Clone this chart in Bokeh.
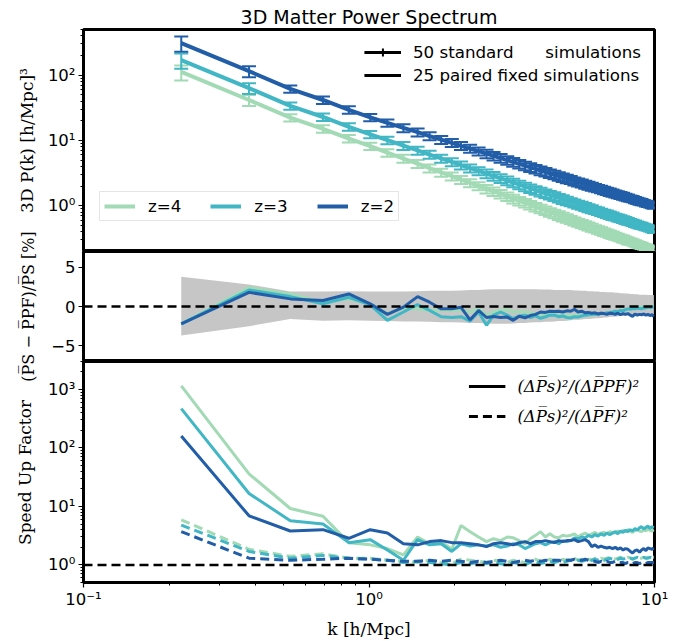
import math
import numpy as np
from bokeh.plotting import figure
from bokeh.models import (ColumnDataSource, Whisker, TeeHead, Span, Legend, LegendItem,
                          LogTicker, FixedTicker, CustomJSTickFormatter, Range1d, Label)
from bokeh.layouts import column, row
from bokeh.embed import file_html
from bokeh.resources import INLINE

# ---------------- data ----------------
k = [0.22, 0.38, 0.53, 0.69, 0.85, 1.01, 1.16, 1.32, 1.48, 1.63,
     1.79, 1.95, 2.10, 2.26, 2.42, 2.58, 2.73, 2.89, 3.05, 3.20,
     3.36, 3.52, 3.67, 3.83, 3.99, 4.15, 4.30, 4.46, 4.62, 4.77,
     4.93, 5.09, 5.24, 5.40, 5.56, 5.72, 5.87, 6.03, 6.19, 6.34,
     6.50, 6.66, 6.81, 6.97, 7.13, 7.29, 7.44, 7.60, 7.76, 7.91,
     8.07, 8.23, 8.38, 8.54, 8.70, 8.86, 9.01, 9.17, 9.33, 9.48,
     9.64, 9.80, 9.95]

pk_z2 = [309, 115, 61.7, 41.7, 29.5, 22.6, 18.6, 15.6, 13.4, 11.7,
         10.3, 9.21, 8.29, 7.52, 6.86, 6.30, 5.81, 5.39, 5.01, 4.68,
         4.39, 4.12, 3.89, 3.67, 3.47, 3.30, 3.13, 2.99, 2.85, 2.72,
         2.61, 2.50, 2.39, 2.30, 2.21, 2.13, 2.05, 1.98, 1.91, 1.85,
         1.79, 1.73, 1.68, 1.63, 1.58, 1.53, 1.49, 1.45, 1.41, 1.37,
         1.33, 1.30, 1.27, 1.23, 1.20, 1.17, 1.15, 1.12, 1.09, 1.07,
         1.05, 1.02, 1.00]
pk_z3 = [170, 63.3, 33.9, 22.9, 16.2, 12.4, 10.1, 8.32, 7.06, 6.10,
         5.31, 4.71, 4.20, 3.78, 3.42, 3.12, 2.86, 2.64, 2.44, 2.26,
         2.11, 1.97, 1.85, 1.74, 1.64, 1.55, 1.47, 1.40, 1.32, 1.26,
         1.20, 1.15, 1.10, 1.05, 1.01, 0.967, 0.928, 0.894, 0.860, 0.831,
         0.802, 0.773, 0.748, 0.724, 0.700, 0.677, 0.657, 0.638, 0.619, 0.600,
         0.582, 0.567, 0.553, 0.535, 0.520, 0.506, 0.497, 0.483, 0.469, 0.460,
         0.450, 0.437, 0.427]
pk_z4 = [112, 41.7, 22.4, 15.1, 10.7, 8.19, 6.51, 5.30, 4.43, 3.78,
         3.25, 2.85, 2.52, 2.24, 2.01, 1.82, 1.66, 1.52, 1.39, 1.28,
         1.19, 1.11, 1.03, 0.965, 0.904, 0.851, 0.800, 0.758, 0.717, 0.679,
         0.646, 0.614, 0.583, 0.557, 0.532, 0.509, 0.487, 0.467, 0.448, 0.431,
         0.415, 0.398, 0.385, 0.371, 0.358, 0.345, 0.334, 0.323, 0.313, 0.303,
         0.292, 0.285, 0.277, 0.267, 0.259, 0.252, 0.246, 0.239, 0.232, 0.226,
         0.221, 0.214, 0.209]
# relative 1-sigma scatter of the 50 standard simulations
rel_err = [0.26, 0.19, 0.13, 0.13, 0.13, 0.13, 0.13, 0.14, 0.14, 0.14,
           0.14, 0.14, 0.14, 0.14, 0.14, 0.15, 0.15, 0.15, 0.15, 0.15,
           0.15, 0.15, 0.15, 0.15, 0.15, 0.15, 0.15, 0.15, 0.15, 0.15,
           0.15, 0.14, 0.14, 0.14, 0.14, 0.14, 0.14, 0.14, 0.13, 0.13,
           0.13, 0.13, 0.13, 0.13, 0.13, 0.12, 0.12, 0.12, 0.12, 0.12,
           0.12, 0.11, 0.11, 0.11, 0.11, 0.11, 0.11, 0.10, 0.10, 0.10,
           0.10, 0.10, 0.10]

ratio_z2 = [-2.2, 1.8, 0.97, 0.76, 1.6, 0.34, -1.0, -0.08, 1.26, 0.55,
            -0.3, -0.3, -0.1, -1.7, -0.5, -1.4, -1.26, -1.4, -1.35, -1.76,
            -1.25, -1.45, -1.15, -1.0, -0.7, -0.75, -0.6, -0.65, -0.6, -0.7,
            -0.55, -0.6, -0.35, -0.7, -0.6, -0.8, -0.75, -0.85, -0.8, -0.95,
            -0.85, -0.9, -1.0, -0.85, -0.9, -1.0, -0.85, -1.05, -0.9, -1.0,
            -0.9, -1.1, -1.25, -0.95, -1.1, -1.0, -1.05, -0.95, -1.1, -1.0,
            -1.15, -1.05, -1.25]
ratio_z3 = [-2.2, 2.1, 1.26, 0.34, 1.17, 0.2, -1.76, -0.7, 0.25, -0.5,
            -1.3, -1.4, -1.3, -1.85, -0.7, -2.4, -1.1, -0.7, -1.1, -1.55,
            -1.2, -1.1, -1.4, -1.2, -1.5, -1.3, -1.1, -1.1, -1.3, -1.2,
            -1.4, -1.45, -1.3, -1.35, -1.2, -1.1, -1.05, -1.0, -0.95, -1.0,
            -0.85, -0.9, -0.8, -0.75, -0.7, -0.6, -0.65, -0.5, -0.55, -0.4,
            -0.3, -0.35, -0.25, -0.3, -0.2, -0.25, -0.3, -0.15, -0.2, -0.05,
            -0.15, -0.1, -0.1]
ratio_z4 = [-2.2, 2.4, 1.6, 0.55, 0.97, 0.3, -0.9, -0.2, -0.3, -0.5,
            -0.4, -0.55, -0.45, -0.7, -0.3, -1.1, -0.7, -0.5, -0.4, -0.7,
            -0.6, -0.7, -0.8, -0.9, -1.0, -0.95, -1.05, -1.0, -1.1, -1.05,
            -1.1, -1.1, -1.15, -1.05, -1.1, -1.1, -1.05, -1.1, -1.0, -1.0,
            -0.95, -0.9, -0.85, -0.8, -0.7, -0.7, -0.6, -0.55, -0.5, -0.4,
            -0.35, -0.3, -0.3, -0.25, -0.2, -0.15, -0.1, -0.1, -0.05, 0.0,
            -0.05, 0.0, 0.0]
band_hi = [3.8, 2.8, 1.9, 1.9, 1.95, 1.9, 1.9, 1.9, 1.95, 2.0,
           2.0, 2.0, 2.05, 2.1, 2.1, 2.15, 2.2, 2.2, 2.2, 2.2,
           2.2, 2.2, 2.2, 2.2, 2.15, 2.15, 2.15, 2.1, 2.1, 2.1,
           2.1, 2.1, 2.05, 2.05, 2.0, 2.0, 1.95, 1.95, 1.9, 1.9,
           1.85, 1.85, 1.8, 1.8, 1.8, 1.75, 1.75, 1.7, 1.7, 1.65,
           1.65, 1.6, 1.6, 1.55, 1.55, 1.5, 1.5, 1.5, 1.5, 1.45,
           1.45, 1.45, 1.45]
band_lo = [-3.7, -2.5, -1.6, -1.8, -1.75, -1.8, -1.85, -1.9, -1.9, -1.95,
           -2.0, -2.0, -2.05, -2.1, -2.1, -2.15, -2.2, -2.2, -2.2, -2.15,
           -2.1, -2.1, -2.05, -2.0, -2.0, -1.95, -1.95, -1.9, -1.85, -1.85,
           -1.8, -1.75, -1.7, -1.7, -1.65, -1.6, -1.6, -1.55, -1.5, -1.5,
           -1.45, -1.4, -1.4, -1.35, -1.3, -1.3, -1.25, -1.2, -1.2, -1.15,
           -1.15, -1.1, -1.1, -1.05, -1.05, -1.0, -1.0, -1.0, -0.95, -0.95,
           -0.95, -0.95, -0.95]

speed_pf_z4 = [1150, 36, 9.2, 6.8, 2.4, 2.2, 1.9, 1.48, 3.0, 2.3,
               2.5, 1.85, 4.7, 3.7, 3.0, 2.5, 2.8, 2.6, 3.0, 2.9,
               2.6, 2.3, 2.8, 3.2, 3.7, 3.0, 3.4, 3.0, 2.9, 3.2,
               3.1, 3.2, 3.4, 3.0, 3.3, 3.5, 3.2, 3.4, 3.6, 3.3,
               3.5, 3.6, 3.4, 3.7, 3.6, 3.5, 3.8, 3.6, 3.9, 3.7,
               4.0, 3.8, 3.6, 3.9, 4.1, 3.8, 3.7, 4.0, 3.8, 4.2,
               3.9, 3.8, 4.0]
speed_pf_z3 = [470, 16.6, 5.7, 5.0, 2.4, 2.7, 1.8, 1.2, 2.7, 2.2,
               2.3, 1.7, 2.3, 2.1, 2.2, 2.1, 2.2, 2.0, 2.1, 2.3,
               2.2, 1.9, 2.1, 2.3, 2.4, 2.2, 2.4, 2.5, 2.3, 2.6,
               2.5, 2.6, 2.9, 2.8, 3.0, 2.9, 3.2, 3.0, 3.3, 3.1,
               3.4, 3.2, 3.5, 3.3, 3.5, 3.7, 3.4, 3.8, 3.6, 3.9,
               3.7, 4.0, 3.8, 4.2, 3.9, 4.3, 4.5, 4.1, 4.4, 4.6,
               4.2, 4.5, 4.3]
speed_pf_z2 = [160, 6.9, 3.8, 4.0, 2.85, 4.0, 3.5, 2.3, 2.2, 2.5,
               2.6, 2.4, 2.4, 2.3, 2.2, 2.05, 2.3, 2.4, 2.3, 2.2,
               2.4, 2.5, 2.3, 2.5, 2.5, 2.6, 2.5, 2.4, 2.6, 2.5,
               2.6, 2.6, 2.7, 2.5, 2.6, 2.7, 2.5, 2.05, 2.2, 2.0,
               2.1, 2.0, 1.95, 2.0, 1.9, 2.0, 1.85, 1.95, 1.8, 1.9,
               1.85, 1.7, 1.6, 1.75, 1.8, 1.65, 1.8, 1.9, 1.75, 1.95,
               1.9, 1.85, 1.95]
speed_f_z4 = [5.9, 1.85, 1.4, 1.55, 1.3, 1.3, 1.2, 1.15, 1.1, 1.2,
              1.1, 1.05, 1.25, 1.2, 1.15, 1.1, 1.2, 1.15, 1.1, 1.2,
              1.15, 1.1, 1.2, 1.25, 1.15, 1.2, 1.25, 1.2, 1.15, 1.25,
              1.2, 1.25, 1.3, 1.2, 1.25, 1.3, 1.25, 1.2, 1.3, 1.25,
              1.3, 1.25, 1.3, 1.35, 1.3, 1.25, 1.3, 1.35, 1.3, 1.3,
              1.35, 1.3, 1.25, 1.3, 1.35, 1.3, 1.3, 1.35, 1.3, 1.35,
              1.3, 1.35, 1.35]
speed_f_z3 = [4.8, 1.7, 1.3, 1.45, 1.3, 1.25, 1.2, 1.1, 1.15, 1.1,
              1.05, 1.0, 1.1, 1.05, 1.1, 1.05, 1.1, 1.05, 1.0, 1.1,
              1.05, 1.0, 1.1, 1.15, 1.05, 1.1, 1.15, 1.1, 1.15, 1.1,
              1.15, 1.2, 1.15, 1.2, 1.15, 1.2, 1.25, 1.2, 1.25, 1.2,
              1.25, 1.2, 1.25, 1.3, 1.25, 1.2, 1.25, 1.3, 1.25, 1.3,
              1.25, 1.3, 1.25, 1.3, 1.35, 1.3, 1.3, 1.35, 1.3, 1.3,
              1.35, 1.3, 1.3]
speed_f_z2 = [3.7, 1.3, 1.2, 1.25, 1.3, 1.25, 1.2, 1.15, 1.15, 1.2,
              1.15, 1.2, 1.15, 1.1, 1.15, 1.1, 1.15, 1.2, 1.15, 1.1,
              1.15, 1.2, 1.15, 1.2, 1.15, 1.2, 1.15, 1.2, 1.2, 1.15,
              1.2, 1.2, 1.25, 1.2, 1.2, 1.25, 1.2, 1.15, 1.15, 1.1,
              1.15, 1.1, 1.15, 1.1, 1.1, 1.15, 1.1, 1.1, 1.1, 1.05,
              1.1, 1.1, 1.05, 1.1, 1.1, 1.05, 1.1, 1.1, 1.05, 1.1,
              1.1, 1.1, 1.1]

labels = ["z=4", "z=3", "z=2"]
colors = ["#a1dab4", "#41b6c4", "#225ea8"]

x_major = [0.1, 1, 10]
x_minor = [0.2, 0.3, 0.4, 0.5, 0.6, 0.7, 0.8, 0.9, 2, 3, 4, 5, 6, 7, 8, 9]

# ---------------- styling helpers ----------------
LABW = 44
W = 634
xr = Range1d(0.1, 10)

log_fmt = CustomJSTickFormatter(code="""
const s = {"-": "\u207b", "0": "\u2070", "1": "\u00b9", "2": "\u00b2", "3": "\u00b3",
           "4": "\u2074", "5": "\u2075", "6": "\u2076", "7": "\u2077", "8": "\u2078", "9": "\u2079"};
const e = Math.round(Math.log10(tick));
return "10" + String(e).split("").map(c => s[c]).join("");
""")
lin_fmt = CustomJSTickFormatter(code="return tick < 0 ? '\u2212' + Math.abs(tick) : String(tick);")

TICKFONT = "16.5px"
LEGFONT = "16.7px"


def style(p):
    p.outline_line_color = "black"
    p.outline_line_width = 3
    p.outline_line_alpha = 1.0
    p.xgrid.visible = False
    p.ygrid.visible = False
    p.background_fill_color = "white"
    p.border_fill_color = "white"
    p.axis.axis_line_color = None
    p.axis.major_tick_out = 5
    p.axis.major_tick_in = 0
    p.axis.minor_tick_out = 3
    p.axis.minor_tick_in = 0
    p.axis.major_tick_line_color = "black"
    p.axis.minor_tick_line_color = "black"
    p.axis.major_tick_line_width = 1.2
    p.axis.minor_tick_line_width = 1
    p.axis.major_label_text_font = "DejaVu Sans"
    p.axis.major_label_text_font_size = TICKFONT
    p.axis.major_label_text_color = "black"
    p.axis.major_label_standoff = 3


common = dict(width=W, x_axis_type="log", x_range=xr, output_backend="svg",
              toolbar_location=None, min_border_left=37, min_border_right=24)

# ---------------- top panel: P(k) ----------------
p1 = figure(height=251, y_axis_type="log", y_range=Range1d(0.2, 500),
            min_border_top=29, min_border_bottom=0, title="3D Matter Power Spectrum", **common)
style(p1)
p1.xaxis.visible = False
p1.yaxis.ticker = LogTicker(num_minor_ticks=10)
p1.yaxis.formatter = log_fmt
p1.title.align = "center"
p1.title.text_font = "DejaVu Sans"
p1.title.text_font_size = "19px"
p1.title.text_font_style = "normal"
p1.title.text_color = "black"
p1.title.standoff = 4

zlines = []
for pk, c in zip([pk_z4, pk_z3, pk_z2], colors):
    src = ColumnDataSource(dict(k=k, p=pk,
                                lo=[v * (1 - e) for v, e in zip(pk, rel_err)],
                                hi=[v * (1 + e) for v, e in zip(pk, rel_err)]))
    r = p1.line("k", "p", source=src, line_color=c, line_width=4)
    w = Whisker(source=src, base="k", upper="hi", lower="lo", dimension="height",
                line_color=c, line_width=2,
                upper_head=TeeHead(size=14, line_color=c, line_width=2),
                lower_head=TeeHead(size=14, line_color=c, line_width=2))
    p1.add_layout(w)
    zlines.append(r)

# legend-only renderers (NaN data: nothing is drawn in the plot area)
nan = np.array([np.nan])
leg_line_a = p1.line(x=nan, y=nan, line_color="black", line_width=3)
leg_cross = p1.scatter(x=nan, y=nan, marker="cross", size=15, line_color="black", line_width=2)
leg_line_b = p1.line(x=nan, y=nan, line_color="black", line_width=3)

sim_leg = Legend(items=[
    LegendItem(label="50 standard" + "\u00a0" * 6 + "simulations", renderers=[leg_line_a, leg_cross]),
    LegendItem(label="25 paired fixed simulations", renderers=[leg_line_b]),
], location="top_right", border_line_color=None, background_fill_alpha=0,
    label_text_font="DejaVu Sans", label_text_font_size=LEGFONT, label_text_color="black",
    glyph_width=37, label_standoff=12, spacing=3, margin=13, padding=4)
p1.add_layout(sim_leg)

z_leg = Legend(items=[LegendItem(label=l, renderers=[r]) for l, r in zip(labels, zlines)],
               location=(16, 30), orientation="horizontal", border_line_color="#cccccc",
               border_line_width=1, background_fill_color="white", background_fill_alpha=0.8,
               label_text_font="DejaVu Sans", label_text_font_size=LEGFONT, label_text_color="black",
               glyph_width=31, label_standoff=13, spacing=29, margin=0, padding=4)
p1.add_layout(z_leg)

# ---------------- middle panel: relative difference ----------------
p2 = figure(height=110, y_range=Range1d(-7, 7), min_border_top=0, min_border_bottom=0, **common)
style(p2)
p2.xaxis.visible = False
p2.yaxis.ticker = FixedTicker(ticks=[-5, 0, 5])
p2.yaxis.formatter = lin_fmt
p2.varea(x=k, y1=band_lo, y2=band_hi, fill_color="#c6c6c6")
for rt, c in zip([ratio_z4, ratio_z3, ratio_z2], colors):
    p2.line(k, rt, line_color=c, line_width=3)
p2.add_layout(Span(location=0, dimension="width", line_color="black", line_width=2.5, line_dash="9 5"))

# ---------------- bottom panel: speed-up factor ----------------
p3 = figure(height=280, y_axis_type="log", y_range=Range1d(0.5, 3000),
            min_border_top=0, min_border_bottom=58, **common)
style(p3)
p3.xaxis.ticker = FixedTicker(ticks=x_major, minor_ticks=x_minor)
p3.xaxis.formatter = log_fmt
p3.xaxis.major_label_standoff = 2
p3.yaxis.ticker = LogTicker(num_minor_ticks=10)
p3.yaxis.formatter = log_fmt
p3.xaxis.axis_label = "k [h/Mpc]"
p3.xaxis.axis_label_text_font = "DejaVu Serif"
p3.xaxis.axis_label_text_font_style = "normal"
p3.xaxis.axis_label_text_font_size = "17px"
p3.xaxis.axis_label_text_color = "black"
p3.xaxis.axis_label_standoff = 7

for s, c in zip([speed_pf_z4, speed_pf_z3, speed_pf_z2], colors):
    p3.line(k, s, line_color=c, line_width=3)
for s, c in zip([speed_f_z4, speed_f_z3, speed_f_z2], colors):
    p3.line(k, s, line_color=c, line_width=3, line_dash="9 5")
p3.add_layout(Span(location=1, dimension="width", line_color="black", line_width=2.5, line_dash="9 5"))

leg_solid = p3.line(x=nan, y=nan, line_color="black", line_width=3)
leg_dash = p3.line(x=nan, y=nan, line_color="black", line_width=3, line_dash="9 5")
su_leg = Legend(items=[
    LegendItem(label="(\u0394P\u0305s)\u00b2/(\u0394P\u0305PF)\u00b2", renderers=[leg_solid]),
    LegendItem(label="(\u0394P\u0305s)\u00b2/(\u0394P\u0305F)\u00b2", renderers=[leg_dash]),
], location="top_right", border_line_color=None, background_fill_alpha=0,
    label_text_font="DejaVu Serif", label_text_font_style="italic", label_text_font_size="16.5px",
    label_text_color="black", glyph_width=37, label_standoff=12, spacing=10, margin=15, padding=12)
p3.add_layout(su_leg)

# ---------------- y-axis labels (own strip so long labels are not clipped) ----------------
H = 251 + 110 + 280
lab = figure(width=LABW, height=H, x_range=Range1d(0, LABW), y_range=Range1d(0, H),
             toolbar_location=None, output_backend="svg", min_border=0,
             x_axis_location=None, y_axis_location=None)
lab.outline_line_color = None
lab.xgrid.visible = False
lab.ygrid.visible = False
ylab = dict(angle=math.pi / 2, text_align="center", text_baseline="middle",
            text_font="DejaVu Serif", text_color="black")
lab.add_layout(Label(x=26, y=H - 140, text="3D P(k) [h/Mpc]\u00b3", text_font_size="17px", **ylab))
lab.add_layout(Label(x=28, y=H - 306, text="(P\u0305S \u2212 P\u0305PF)/P\u0305S [%]",
                     text_font_size="16px", **ylab))
lab.add_layout(Label(x=24, y=H - 472, text="Speed Up Factor", text_font_size="17px", **ylab))

layout = row(lab, column(p1, p2, p3))
open("out.html", "w").write(file_html(layout, INLINE))
